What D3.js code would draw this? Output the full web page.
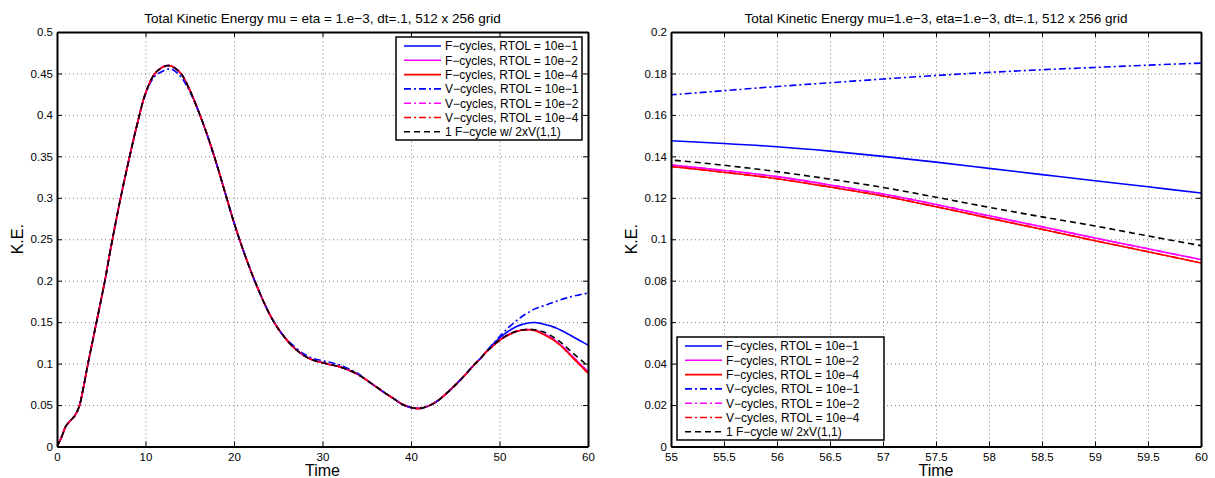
<!DOCTYPE html>
<html>
<head>
<meta charset="utf-8">
<script src="https://cdn.jsdelivr.net/npm/d3@7"></script>
<style>
  body { margin: 0; background: #fff; }
  svg { font-family: "Liberation Sans", Arial, Helvetica, sans-serif; }
</style>
</head>
<body>
<div id="chart"></div>
<script>
// times shared by every run up to t=48 (all runs lie on top of each other there)
var timeHead = [0, 0.5, 1, 1.5, 2, 2.5, 3, 3.5, 4, 4.5, 5, 5.5, 6, 7, 8, 9, 10, 11, 12, 12.6, 13, 14, 15, 16, 17, 18, 19, 20,
  21, 22, 23, 24, 25, 26, 27, 28, 29, 30, 31, 32, 33, 34, 35, 36, 37, 38, 39, 40, 41, 42, 43, 44, 45, 46, 47, 48];
var keHead = [0, 0.011, 0.0245, 0.031, 0.037, 0.048, 0.072, 0.1, 0.126, 0.152, 0.178, 0.205, 0.235, 0.29, 0.34, 0.386, 0.426, 0.449, 0.458, 0.4595, 0.4585, 0.45, 0.43, 0.404,
  0.375, 0.342, 0.306, 0.27, 0.238, 0.209, 0.183, 0.16, 0.142, 0.128, 0.117, 0.109, 0.104, 0.101, 0.0985, 0.096, 0.092, 0.087, 0.08, 0.0725,
  0.065, 0.058, 0.051, 0.047, 0.046, 0.049, 0.055, 0.064, 0.074, 0.085, 0.097, 0.108];
// V-cycles RTOL=10e-1 wobbles a bit at the peak and around t=30
var keHeadV1 = [0, 0.011, 0.0245, 0.031, 0.037, 0.048, 0.072, 0.1, 0.126, 0.152, 0.178, 0.205, 0.235, 0.29, 0.34, 0.386, 0.425, 0.446, 0.453, 0.4555, 0.455, 0.446, 0.428, 0.404,
  0.375, 0.342, 0.306, 0.27, 0.238, 0.209, 0.183, 0.16, 0.142, 0.129, 0.119, 0.111, 0.106, 0.1035, 0.101, 0.098, 0.0935, 0.088, 0.08, 0.0725,
  0.065, 0.058, 0.051, 0.047, 0.046, 0.049, 0.055, 0.064, 0.074, 0.085, 0.097, 0.108];

// where the runs split apart
var timeTail = [48.5, 49, 49.5, 50, 50.5, 51, 51.5, 52, 52.5, 53, 53.5, 54, 54.5, 55, 55.5, 56, 56.5, 57, 57.5, 58, 58.5, 59, 59.5, 60];
var keF1 = [0.1145, 0.1205, 0.1258, 0.1308, 0.1352, 0.139, 0.1423, 0.145, 0.147, 0.1484, 0.1493, 0.1495, 0.1488, 0.1475, 0.1462, 0.1446, 0.1425, 0.14, 0.1372, 0.1342, 0.1312, 0.1282, 0.1253, 0.1223];
var keF2 = [0.114, 0.119, 0.1236, 0.1282, 0.1318, 0.1348, 0.1374, 0.1394, 0.1406, 0.141, 0.141, 0.1402, 0.1384, 0.1358, 0.1332, 0.1302, 0.1262, 0.1218, 0.1168, 0.1113, 0.106, 0.1006, 0.0954, 0.0902];
var keF4 = [0.114, 0.119, 0.1235, 0.128, 0.1315, 0.1345, 0.137, 0.139, 0.1403, 0.1408, 0.1407, 0.1398, 0.1378, 0.1351, 0.1323, 0.1292, 0.1252, 0.1209, 0.1157, 0.1102, 0.1048, 0.0993, 0.094, 0.0885];
var keV1 = [0.1145, 0.1205, 0.1265, 0.1325, 0.138, 0.1435, 0.148, 0.1525, 0.1565, 0.16, 0.1632, 0.166, 0.1683, 0.1697, 0.1717, 0.1737, 0.1755, 0.1773, 0.179, 0.1805, 0.1818, 0.1829, 0.184, 0.185];
var keV2 = [0.114, 0.119, 0.1236, 0.1282, 0.1318, 0.1348, 0.1374, 0.1394, 0.1406, 0.141, 0.141, 0.1402, 0.1384, 0.1358, 0.1332, 0.1302, 0.1262, 0.1218, 0.1168, 0.1113, 0.106, 0.1006, 0.0954, 0.0902];
var keV4 = [0.114, 0.119, 0.1235, 0.128, 0.1315, 0.1345, 0.137, 0.139, 0.1403, 0.1408, 0.1407, 0.1398, 0.1378, 0.1351, 0.1323, 0.1292, 0.1252, 0.1209, 0.1157, 0.1102, 0.1048, 0.0993, 0.094, 0.0885];
var keFV = [0.114, 0.119, 0.124, 0.1285, 0.132, 0.135, 0.1375, 0.1393, 0.1405, 0.1412, 0.1413, 0.1408, 0.1398, 0.1382, 0.1357, 0.1326, 0.129, 0.125, 0.1203, 0.1154, 0.1108, 0.1064, 0.1016, 0.0969];

var seriesNames = ["F\u2212cycles, RTOL = 10e\u22121", "F\u2212cycles, RTOL = 10e\u22122", "F\u2212cycles, RTOL = 10e\u22124",
  "V\u2212cycles, RTOL = 10e\u22121", "V\u2212cycles, RTOL = 10e\u22122", "V\u2212cycles, RTOL = 10e\u22124", "1 F\u2212cycle w/ 2xV(1,1)"];
var seriesColors = ["#0000ff", "#ff00ff", "#ff0000", "#0000ff", "#ff00ff", "#ff0000", "#000000"];
var seriesDash = [null, null, null, "7,3,2,3", "7,3,2,3", "7,3,2,3", "6,4"];
var heads = [keHead, keHead, keHead, keHeadV1, keHead, keHead, keHead];
var tails = [keF1, keF2, keF4, keV1, keV2, keV4, keFV];

var leftXTicks = [0, 10, 20, 30, 40, 50, 60];
var leftYTicks = [0, 0.05, 0.1, 0.15, 0.2, 0.25, 0.3, 0.35, 0.4, 0.45, 0.5];
var rightXTicks = [55, 55.5, 56, 56.5, 57, 57.5, 58, 58.5, 59, 59.5, 60];
var rightYTicks = [0, 0.02, 0.04, 0.06, 0.08, 0.1, 0.12, 0.14, 0.16, 0.18, 0.2];

var series = seriesNames.map(function(name, k) {
  var pts = [];
  timeHead.forEach(function(t, i) { pts.push({ t: t, v: heads[k][i] }); });
  timeTail.forEach(function(t, i) { pts.push({ t: t, v: tails[k][i] }); });
  return { name: name, color: seriesColors[k], dash: seriesDash[k], pts: pts };
});

var W = 1215, H = 478;
var svg = d3.select("#chart").append("svg").attr("width", W).attr("height", H);

function panel(cfg) {
  var x = d3.scaleLinear().domain(cfg.xdom).range([cfg.left, cfg.right]);
  var y = d3.scaleLinear().domain(cfg.ydom).range([cfg.bottom, cfg.top]);
  var g = svg.append("g");
  var w = cfg.right - cfg.left, h = cfg.bottom - cfg.top;

  // dotted grid
  g.append("g").attr("transform", "translate(0," + cfg.bottom + ")")
    .call(d3.axisBottom(x).tickValues(cfg.xticks).tickSize(-h).tickFormat(""))
    .call(function(s) { s.select(".domain").remove(); s.selectAll("line").attr("stroke", "#808080").attr("stroke-dasharray", "1,3"); });
  g.append("g").attr("transform", "translate(" + cfg.left + ",0)")
    .call(d3.axisLeft(y).tickValues(cfg.yticks).tickSize(-w).tickFormat(""))
    .call(function(s) { s.select(".domain").remove(); s.selectAll("line").attr("stroke", "#808080").attr("stroke-dasharray", "1,3"); });

  var clipId = "clip" + cfg.id;
  svg.append("clipPath").attr("id", clipId).append("rect")
    .attr("x", cfg.left).attr("y", cfg.top).attr("width", w).attr("height", h);

  var line = d3.line().x(function(d) { return x(d.t); }).y(function(d) { return y(d.v); })
    .curve(d3.curveCatmullRom.alpha(0.5));
  var lines = g.append("g").attr("clip-path", "url(#" + clipId + ")");
  series.forEach(function(s) {
    var pts = s.pts.filter(function(d) { return d.t >= cfg.xdom[0] - 1; });
    lines.append("path").datum(pts)
      .attr("d", line)
      .attr("fill", "none")
      .attr("stroke", s.color)
      .attr("stroke-width", 1.6)
      .attr("stroke-dasharray", s.dash);
  });

  // axes with inward ticks on all four sides
  var fmt = function(d) { return String(d); };
  var bx = g.append("g").attr("transform", "translate(0," + cfg.bottom + ")")
    .call(d3.axisBottom(x).tickValues(cfg.xticks).tickSizeInner(-5).tickSizeOuter(0).tickPadding(6).tickFormat(fmt));
  var ly = g.append("g").attr("transform", "translate(" + cfg.left + ",0)")
    .call(d3.axisLeft(y).tickValues(cfg.yticks).tickSizeInner(-5).tickSizeOuter(0).tickPadding(4).tickFormat(fmt));
  var tx = g.append("g").attr("transform", "translate(0," + cfg.top + ")")
    .call(d3.axisTop(x).tickValues(cfg.xticks).tickSizeInner(-5).tickSizeOuter(0).tickFormat(""));
  var ry = g.append("g").attr("transform", "translate(" + cfg.right + ",0)")
    .call(d3.axisRight(y).tickValues(cfg.yticks).tickSizeInner(-5).tickSizeOuter(0).tickFormat(""));
  [bx, ly, tx, ry].forEach(function(a) {
    a.select(".domain").attr("stroke", "#000").attr("stroke-width", 2);
    a.selectAll(".tick line").attr("stroke", "#000");
    a.selectAll("text").attr("fill", "#000").style("font-size", "11.5px")
      .style("font-family", "'Liberation Sans', Arial, sans-serif");
  });

  g.append("text").attr("x", (cfg.left + cfg.right) / 2).attr("y", 23)
    .attr("text-anchor", "middle").style("font-size", "13.5px").text(cfg.title);
  g.append("text").attr("x", (cfg.left + cfg.right) / 2).attr("y", 476)
    .attr("text-anchor", "middle").style("font-size", "16px").text("Time");
  g.append("text").attr("transform", "translate(" + (cfg.left - 34) + "," + ((cfg.top + cfg.bottom) / 2) + ") rotate(-90)")
    .attr("text-anchor", "middle").style("font-size", "16px").text("K.E.");

  // legend
  var L = cfg.legend;
  var lg = g.append("g");
  lg.append("rect").attr("x", L.x).attr("y", L.y).attr("width", L.w).attr("height", L.h)
    .attr("fill", "#fff").attr("stroke", "#000").attr("stroke-width", 1.5);
  series.forEach(function(s, i) {
    var yy = L.y + 9 + i * 14.3;
    lg.append("line").attr("x1", L.x + 8).attr("x2", L.x + 45).attr("y1", yy).attr("y2", yy)
      .attr("stroke", s.color).attr("stroke-width", 1.6).attr("stroke-dasharray", s.dash);
    lg.append("text").attr("x", L.x + 49).attr("y", yy + 4.3).style("font-size", "12px").text(s.name);
  });
}

panel({
  id: "L", xdom: [0, 60], ydom: [0, 0.5], left: 57, right: 588, top: 32, bottom: 446.5,
  xticks: leftXTicks, yticks: leftYTicks,
  title: "Total Kinetic Energy mu = eta = 1.e\u22123, dt=.1, 512 x 256 grid",
  legend: { x: 396, y: 37, w: 186, h: 103 }
});
panel({
  id: "R", xdom: [55, 60], ydom: [0, 0.2], left: 671, right: 1201, top: 32, bottom: 446.5,
  xticks: rightXTicks, yticks: rightYTicks,
  title: "Total Kinetic Energy mu=1.e\u22123, eta=1.e\u22123, dt=.1, 512 x 256 grid",
  legend: { x: 677, y: 337, w: 207, h: 103 }
});
</script>
</body>
</html>
